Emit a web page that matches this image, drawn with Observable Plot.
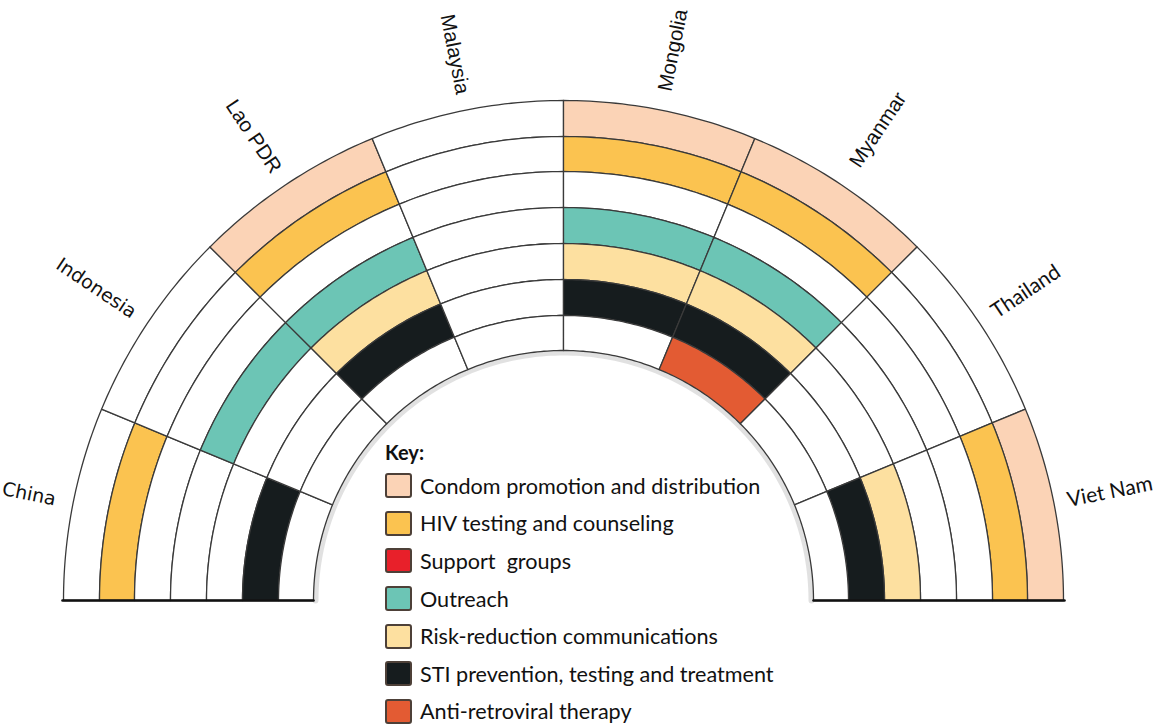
<!DOCTYPE html>
<html>
<head>
<meta charset="utf-8">
<script src="https://cdn.jsdelivr.net/npm/d3@7"></script>
<script src="https://cdn.jsdelivr.net/npm/@observablehq/plot@0.6"></script>
<style>
  html, body { margin: 0; padding: 0; background: #fff; }
  #wrap { position: relative; width: 1156px; height: 725px; overflow: hidden; }
  #legend { position: absolute; left: 385px; top: 437px; font-family: Lato, "Open Sans", sans-serif; color: #111; }
  #legend .title { font-weight: bold; font-size: 20px; height: 30px; line-height: 30px; }
  #legend .row { display: flex; align-items: center; height: 37.6px; }
  #legend .sw { width: 23px; height: 21px; border: 2.5px solid #4d4038; border-radius: 3px; margin-right: 8px; box-sizing: content-box; }
  #legend .lab { font-size: 21.6px; white-space: pre; }
</style>
</head>
<body>
<div id="wrap"><div id="chart"></div><div id="legend"></div></div>
<script>
// ---- data ----
const countries = ["China", "Indonesia", "Lao PDR", "Malaysia", "Mongolia", "Myanmar", "Thailand", "Viet Nam"];
const services = [
  "Condom promotion and distribution",
  "HIV testing and counseling",
  "Support  groups",
  "Outreach",
  "Risk-reduction communications",
  "STI prevention, testing and treatment",
  "Anti-retroviral therapy"
];
const serviceColors = ["#FBD3B6", "#FBC350", "#E8202A", "#6CC5B5", "#FDE0A0", "#161C1E", "#E35B33"];
// 1 = service provided (rings ordered outer -> inner, same order as services)
const chinaServices     = [0, 1, 0, 0, 0, 1, 0];
const indonesiaServices = [0, 0, 0, 1, 0, 0, 0];
const laoServices       = [1, 1, 0, 1, 1, 1, 0];
const malaysiaServices  = [0, 0, 0, 0, 0, 0, 0];
const mongoliaServices  = [1, 1, 0, 1, 1, 1, 0];
const myanmarServices   = [1, 1, 0, 1, 1, 1, 1];
const thailandServices  = [0, 0, 0, 0, 0, 0, 0];
const vietnamServices   = [1, 1, 0, 0, 1, 1, 0];
const provided = [chinaServices, indonesiaServices, laoServices, malaysiaServices,
                  mongoliaServices, myanmarServices, thailandServices, vietnamServices];

// ---- layout ----
const ringEdges = [500, 464, 429, 393, 357, 321, 285, 250];
const labelRadii = [545, 562, 558, 557, 561, 566, 556, 557];
const nC = countries.length;
const step = Math.PI / nC;

const cells = [];
countries.forEach((c, i) => {
  services.forEach((s, j) => {
    const a0 = Math.PI - i * step, a1 = Math.PI - (i + 1) * step;
    const ro = ringEdges[j], ri = ringEdges[j + 1];
    const id = c + "|" + s;
    const service = provided[i][j] ? s : "none";
    const n = 30;
    for (let k = 0; k <= n; k++) {
      const a = a0 + (a1 - a0) * k / n;
      cells.push({id, service, x: ro * Math.cos(a), y: ro * Math.sin(a)});
    }
    for (let k = n; k >= 0; k--) {
      const a = a0 + (a1 - a0) * k / n;
      cells.push({id, service, x: ri * Math.cos(a), y: ri * Math.sin(a)});
    }
  });
});

const shadow = [];
for (let k = 0; k <= 180; k++) {
  const a = k * Math.PI / 180;
  shadow.push({x: (ringEdges[7] - 2) * Math.cos(a), y: (ringEdges[7] - 2) * Math.sin(a)});
}

const R0 = ringEdges[0], R7 = ringEdges[ringEdges.length - 1];
const baseline = [
  {g: "L", x: -R0 - 1, y: 0}, {g: "L", x: -R7, y: 0},
  {g: "R", x: R7, y: 0}, {g: "R", x: R0 + 1, y: 0}
];

const labels = countries.map((c, i) => {
  const deg = 180 - (i + 0.5) * 180 / nC;
  const a = deg * Math.PI / 180;
  return {i, name: c, x: labelRadii[i] * Math.cos(a), y: labelRadii[i] * Math.sin(a),
          rot: deg > 90 ? 180 - deg : -deg};
});

const textOpts = {x: "x", y: "y", text: "name", rotate: "rot", textAnchor: "middle", lineAnchor: "middle", fill: "#111"};

const chart = Plot.plot({
  width: 1156,
  height: 725,
  margin: 0,
  x: {domain: [-563, 593], range: [0, 1156], axis: null},
  y: {domain: [-125, 600], range: [725, 0], axis: null},
  color: {domain: [...services, "none"], range: [...serviceColors, "#ffffff"]},
  style: {background: "#fff"},
  marks: [
    Plot.line(shadow, {x: "x", y: "y", stroke: "#9a9a9a", strokeWidth: 6, strokeOpacity: 0.3}),
    Plot.line(cells, {x: "x", y: "y", z: "id", fill: "service", stroke: "#3a3a3a", strokeWidth: 1.3, curve: "linear-closed"}),
    Plot.line(baseline, {x: "x", y: "y", z: "g", stroke: "#111", strokeWidth: 2.6}),
    Plot.text(labels.filter(d => d.i < 2), {...textOpts, fontSize: 19, fontFamily: "DejaVu Sans"}),
    Plot.text(labels.filter(d => d.i >= 2 && d.i < 6), {...textOpts, fontSize: 20.5, fontFamily: "Liberation Sans"}),
    Plot.text(labels.filter(d => d.i >= 6), {...textOpts, fontSize: 21, fontFamily: "Lato"})
  ]
});
document.getElementById("chart").appendChild(chart);

// ---- legend ----
const legend = d3.select("#legend");
legend.append("div").attr("class", "title").text("Key:");
services.forEach((s, j) => {
  const row = legend.append("div").attr("class", "row");
  row.append("div").attr("class", "sw").style("background", serviceColors[j]);
  row.append("div").attr("class", "lab").text(s);
});
</script>
</body>
</html>
